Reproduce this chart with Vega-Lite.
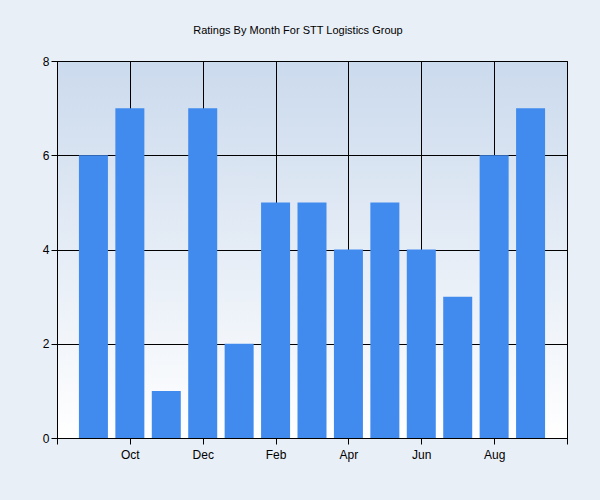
{
  "$schema": "https://vega.github.io/schema/vega-lite/v6.json",
  "width": 510,
  "height": 377,
  "autosize": {"type": "none"},
  "padding": {"left": 57, "top": 61, "right": 33, "bottom": 62},
  "background": "#e9eff7",
  "title": {
    "text": "Ratings By Month For STT Logistics Group",
    "fontSize": 11,
    "fontWeight": "normal",
    "font": "Liberation Sans",
    "color": "#000000",
    "anchor": "middle",
    "dx": -14,
    "offset": 19
  },
  "config": {
    "view": {
      "stroke": "#000000",
      "strokeWidth": 1,
      "fill": {
        "gradient": "linear",
        "x1": 0, "y1": 0, "x2": 0, "y2": 1,
        "stops": [
          {"offset": 0, "color": "#cbdaed"},
          {"offset": 1, "color": "#ffffff"}
        ]
      }
    },
    "axis": {
      "labelFont": "Liberation Sans",
      "labelFontSize": 12,
      "labelColor": "#000000",
      "domainColor": "#000000",
      "tickColor": "#000000",
      "gridColor": "#000000",
      "gridOpacity": 1,
      "gridWidth": 1,
      "domainWidth": 1,
      "tickWidth": 1,
      "tickSize": 6,
      "title": null
    }
  },
  "data": {
    "values": [
      {"idx": 1, "month": "Sep", "rating": 6},
      {"idx": 2, "month": "Oct", "rating": 7},
      {"idx": 3, "month": "Nov", "rating": 1},
      {"idx": 4, "month": "Dec", "rating": 7},
      {"idx": 5, "month": "Jan", "rating": 2},
      {"idx": 6, "month": "Feb", "rating": 5},
      {"idx": 7, "month": "Mar", "rating": 5},
      {"idx": 8, "month": "Apr", "rating": 4},
      {"idx": 9, "month": "May", "rating": 5},
      {"idx": 10, "month": "Jun", "rating": 4},
      {"idx": 11, "month": "Jul", "rating": 3},
      {"idx": 12, "month": "Aug", "rating": 6},
      {"idx": 13, "month": "Sep", "rating": 7}
    ]
  },
  "mark": {"type": "bar", "color": "#418bef", "width": 29},
  "encoding": {
    "x": {
      "field": "idx",
      "type": "quantitative",
      "scale": {"domain": [0, 14], "nice": false, "zero": false, "padding": 0},
      "axis": {
        "values": [0, 2, 4, 6, 8, 10, 12, 14],
        "labelExpr": "['', '', 'Oct', '', 'Dec', '', 'Feb', '', 'Apr', '', 'Jun', '', 'Aug', '', ''][datum.value]",
        "labelPadding": 5,
        "grid": true
      }
    },
    "y": {
      "field": "rating",
      "type": "quantitative",
      "scale": {"domain": [0, 8], "nice": false},
      "axis": {"values": [0, 2, 4, 6, 8], "grid": true, "labelPadding": 2}
    },
    "tooltip": [{"field": "month"}, {"field": "rating"}]
  }
}
